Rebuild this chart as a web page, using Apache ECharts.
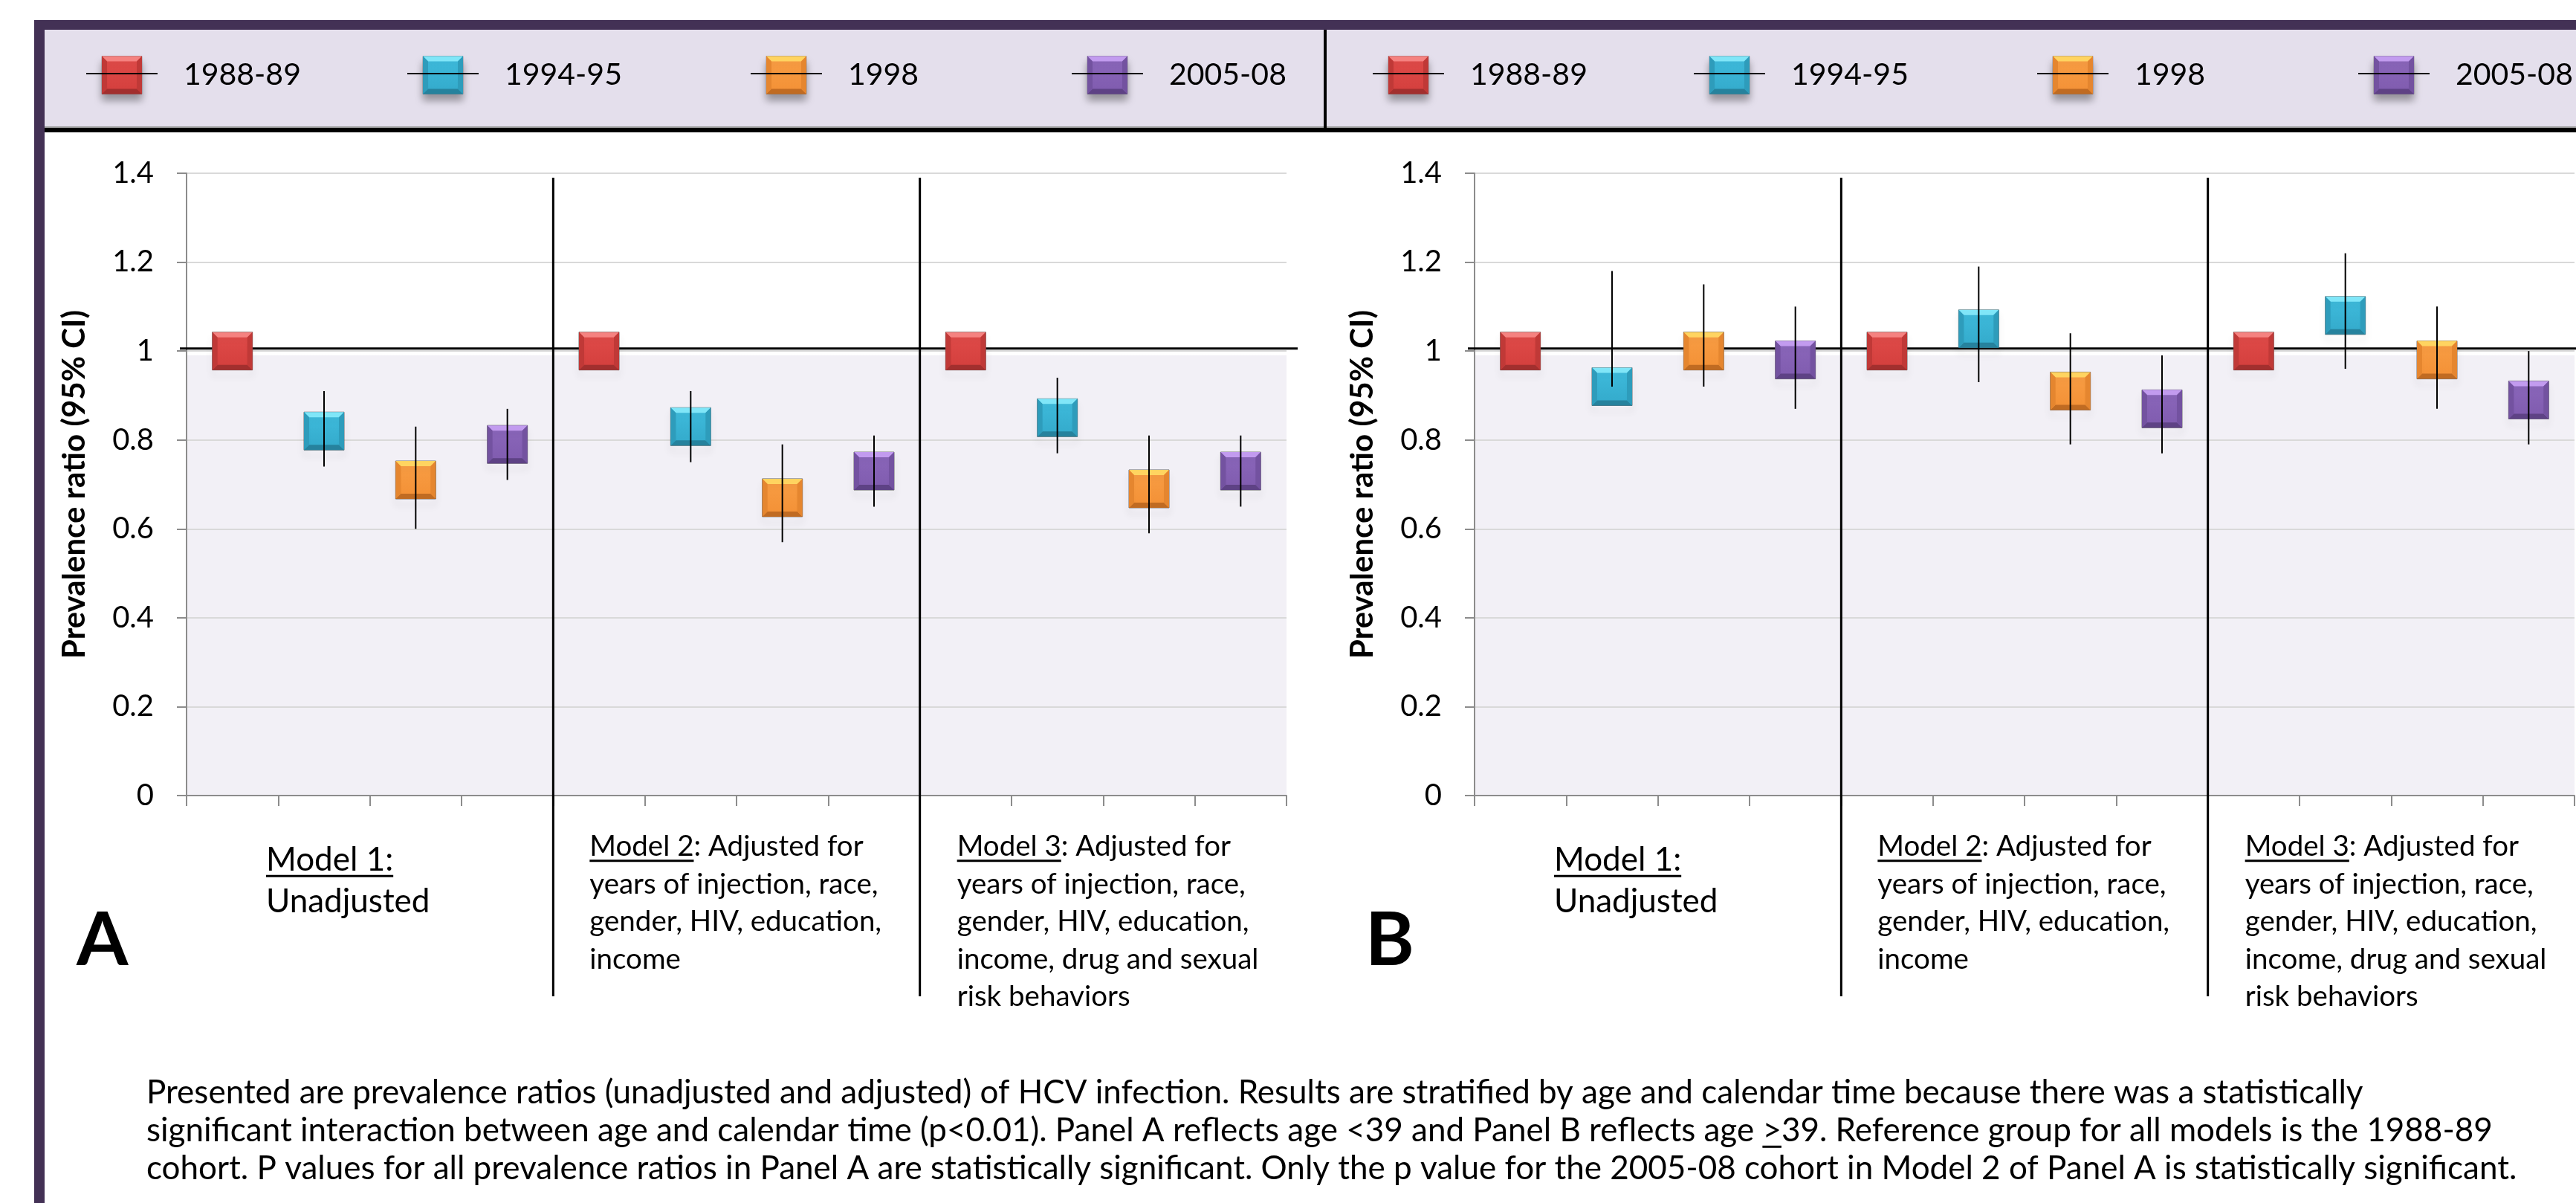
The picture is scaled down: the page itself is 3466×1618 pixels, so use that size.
<!DOCTYPE html>
<html>
<head>
<meta charset="utf-8">
<script src="https://cdn.jsdelivr.net/npm/echarts@6/dist/echarts.min.js"></script>
<style>
html,body{margin:0;padding:0;background:#fff;}
#c{width:3466px;height:1618px;}
</style>
</head>
<body>
<div id="c"></div>
<script>
// ---------------- DATA ----------------
const cohorts = ['1988-89', '1994-95', '1998', '2005-08'];
const models = ['Model 1', 'Model 2', 'Model 3'];
const yTickLabels = ['0', '0.2', '0.4', '0.6', '0.8', '1', '1.2', '1.4'];
const panelNames = ['A', 'B'];

// Panel A (age <39): prevalence ratios per model [Model 1, Model 2, Model 3]
const estA_1988_89 = [1.00, 1.00, 1.00];
const estA_1994_95 = [0.82, 0.83, 0.85];
const lowA_1994_95 = [0.74, 0.75, 0.77];
const highA_1994_95 = [0.91, 0.91, 0.94];
const estA_1998 = [0.71, 0.67, 0.69];
const lowA_1998 = [0.60, 0.57, 0.59];
const highA_1998 = [0.83, 0.79, 0.81];
const estA_2005_08 = [0.79, 0.73, 0.73];
const lowA_2005_08 = [0.71, 0.65, 0.65];
const highA_2005_08 = [0.87, 0.81, 0.81];

// Panel B (age >=39)
const estB_1988_89 = [1.00, 1.00, 1.00];
const estB_1994_95 = [0.92, 1.05, 1.08];
const lowB_1994_95 = [0.92, 0.93, 0.96];
const highB_1994_95 = [1.18, 1.19, 1.22];
const estB_1998 = [1.00, 0.91, 0.98];
const lowB_1998 = [0.92, 0.79, 0.87];
const highB_1998 = [1.15, 1.04, 1.10];
const estB_2005_08 = [0.98, 0.87, 0.89];
const lowB_2005_08 = [0.87, 0.77, 0.79];
const highB_2005_08 = [1.10, 0.99, 1.00];
const noCI = [null, null, null];

const modelText = [
  ['Model 1:', 'Unadjusted'],
  ['Model 2: Adjusted for', 'years of injection, race,', 'gender, HIV, education,', 'income'],
  ['Model 3: Adjusted for', 'years of injection, race,', 'gender, HIV, education,', 'income, drug and sexual', 'risk behaviors']
];
const modelUnderlined = ['Model 1:', 'Model 2', 'Model 3'];
const captionLines = [
  'Presented are prevalence ratios (unadjusted and adjusted) of HCV infection. Results are stratified by age and calendar time because there was a statistically',
  'significant interaction between age and calendar time (p<0.01). Panel A reflects age <39 and Panel B reflects age >39. Reference group for all models is the 1988-89',
  'cohort. P values for all prevalence ratios in Panel A are statistically significant. Only the p value for the 2005-08 cohort in Model 2 of Panel A is statistically significant.'
];
const yAxisTitle = 'Prevalence ratio (95% CI)';

// ---------------- STYLE ----------------
const FONT = 'Lato';
const CAP_SIZE = 44;
const palette = [
  {face: '#D33E3C', face2: '#E04C4A', top: '#F58280', bottom: '#A22F2E', side: '#C03937'},
  {face: '#33A9CA', face2: '#3FBCDD', top: '#80E6F8', bottom: '#26829D', side: '#2E9CBB'},
  {face: '#F39035', face2: '#F89E45', top: '#FFD460', bottom: '#C06B22', side: '#E5862F'},
  {face: '#7F5BAE', face2: '#8B67BB', top: '#C29BEF', bottom: '#5E4285', side: '#7352A0'}
];
const GRID_TOP = 233, GRID_H = 837, GRID_W = 1480;
const GRID_LEFT = [251, 1984];

const panelData = [
  {est: [estA_1988_89, estA_1994_95, estA_1998, estA_2005_08],
   low: [noCI, lowA_1994_95, lowA_1998, lowA_2005_08],
   high: [noCI, highA_1994_95, highA_1998, highA_2005_08]},
  {est: [estB_1988_89, estB_1994_95, estB_1998, estB_2005_08],
   low: [noCI, lowB_1994_95, lowB_1998, lowB_2005_08],
   high: [noCI, highB_1994_95, highB_1998, highB_2005_08]}
];
const categories = [];
models.forEach(m => cohorts.forEach(c => categories.push(m + ' ' + c)));

function markerShapes(cx, cy, pal, z) {
  const w = 54, h = 51, b = 7;
  const x0 = cx - w / 2, y0 = cy - h / 2, x1 = x0 + w, y1 = y0 + h;
  const els = [
    {type: 'rect', shape: {x: x0, y: y0, width: w, height: h},
     style: {fill: new echarts.graphic.LinearGradient(0, 0, 0, 1, [
        {offset: 0, color: pal.face2}, {offset: 1, color: pal.face}]),
       stroke: 'rgba(80,80,80,0.45)', lineWidth: 1,
       shadowBlur: 10, shadowOffsetY: 8, shadowColor: 'rgba(0,0,0,0.35)'}},
    {type: 'polygon', shape: {points: [[x0, y0], [x1, y0], [x1 - b, y0 + b], [x0 + b, y0 + b]]}, style: {fill: pal.top}},
    {type: 'polygon', shape: {points: [[x0, y1], [x1, y1], [x1 - b, y1 - b], [x0 + b, y1 - b]]}, style: {fill: pal.bottom}},
    {type: 'polygon', shape: {points: [[x0, y0], [x0 + b, y0 + b], [x0 + b, y1 - b], [x0, y1]]}, style: {fill: pal.side}},
    {type: 'polygon', shape: {points: [[x1, y0], [x1 - b, y0 + b], [x1 - b, y1 - b], [x1, y1]]}, style: {fill: pal.side}}
  ];
  if (z != null) els.forEach(e => { e.z = z; e.silent = true; });
  return els;
}

function makeRender(k) {
  return function (params, api) {
    const ci = api.value(0), est = api.value(1), lo = api.value(2), hi = api.value(3);
    const p = api.coord([ci, est]);
    const children = markerShapes(p[0], p[1], palette[k]);
    if (lo != null && hi != null && !isNaN(lo) && !isNaN(hi)) {
      const yl = api.coord([ci, lo])[1], yh = api.coord([ci, hi])[1];
      children.push({type: 'line', shape: {x1: p[0], y1: yh, x2: p[0], y2: yl},
        style: {stroke: '#000', lineWidth: 2}});
    }
    return {type: 'group', children};
  };
}

const series = [];
panelData.forEach((pd, p) => {
  cohorts.forEach((c, k) => {
    series.push({
      type: 'custom', name: c, xAxisIndex: p, yAxisIndex: p, clip: false,
      encode: {x: 0, y: [1, 2, 3]},
      renderItem: makeRender(k),
      data: models.map((m, j) => [j * 4 + k, pd.est[k][j], pd.low[k][j], pd.high[k][j]]),
      z: 5
    });
  });
});

const shade = () => new echarts.graphic.LinearGradient(0, 0, 0, 1, [
  {offset: 0, color: '#ffffff'}, {offset: 0.292, color: '#ffffff'},
  {offset: 0.2925, color: '#F2F0F6'}, {offset: 1, color: '#F2F0F6'}]);

const chart = echarts.init(document.getElementById('c'), null, {width: 3466, height: 1618});
chart.setOption({
  animation: false,
  backgroundColor: '#ffffff',
  grid: GRID_LEFT.map(l => ({left: l, top: GRID_TOP, width: GRID_W, height: GRID_H,
    show: true, borderWidth: 0, backgroundColor: shade()})),
  xAxis: GRID_LEFT.map((l, i) => ({
    gridIndex: i, type: 'category', data: categories, boundaryGap: true,
    axisLine: {lineStyle: {color: '#8c8c8c', width: 2}},
    axisTick: {show: true, interval: 0, length: 14, lineStyle: {color: '#8c8c8c', width: 2}},
    axisLabel: {show: false}, splitLine: {show: false}
  })),
  yAxis: GRID_LEFT.map((l, i) => ({
    gridIndex: i, type: 'value', min: 0, max: 1.4, interval: 0.2,
    name: yAxisTitle, nameLocation: 'middle', nameGap: 130,
    nameTextStyle: {fontFamily: FONT, fontSize: 42, fontWeight: 'bold', color: '#000'},
    axisLine: {show: true, lineStyle: {color: '#8c8c8c', width: 2}},
    axisTick: {show: true, length: 13, lineStyle: {color: '#8c8c8c', width: 2}},
    axisLabel: {fontFamily: FONT, fontSize: 40, color: '#000', margin: 44,
      formatter: v => yTickLabels[Math.round(v / 0.2)]},
    splitLine: {lineStyle: {color: '#d9d9d9', width: 2}}
  })),
  series
});

// ---------------- DECORATION (graphic) ----------------
const mctx = document.createElement('canvas').getContext('2d');
function measure(s, size, bold) {
  mctx.font = (bold ? 'bold ' : '') + size + 'px ' + FONT;
  return mctx.measureText(s).width;
}
function txt(x, y, s, size, bold, align) {
  return {type: 'text', x, y, silent: true, z: 20,
    style: {text: s, fontSize: size, fontFamily: FONT, fontWeight: bold ? 'bold' : 'normal',
      fill: '#000', align: align || 'left', verticalAlign: 'middle'}};
}
function bar(x, y, w, h, fill, z) {
  return {type: 'rect', silent: true, z: z || 20, shape: {x, y, width: w, height: h}, style: {fill}};
}

const g = [];
// frame
g.push(bar(46, 27, 3466 - 46, 13, '#433155', 30));
g.push(bar(46, 27, 14, 1618 - 27, '#433155', 30));
g.push(bar(60, 40, 3406, 132, '#E4DFEC', 1));
g.push(bar(60, 170, 3406, 2, '#9a9a9a', 2));
g.push(bar(60, 172, 3406, 6, '#000', 3));
g.push(bar(1781, 40, 4, 138, '#000', 3));

// legends
const legendX = [164, 596, 1058, 1490];
const legendDx = [0, 1731];
legendDx.forEach(dx => {
  cohorts.forEach((c, k) => {
    const cx = legendX[k] + dx, cy = 101;
    markerShapes(cx, cy, palette[k], 10).forEach(e => g.push(e));
    g.push({type: 'line', z: 11, silent: true, shape: {x1: cx - 48, y1: 99, x2: cx + 48, y2: 99},
      style: {stroke: '#000', lineWidth: 2}});
    g.push(txt(cx + 83, 101, c, 41, false));
  });
});

GRID_LEFT.forEach((gl, p) => {
  const yOne = chart.convertToPixel({yAxisIndex: p}, 1);
  const yTop = chart.convertToPixel({yAxisIndex: p}, 1.39);
  const centers = categories.map((c, i) => chart.convertToPixel({xAxisIndex: p}, i));
  const div1 = (centers[3] + centers[4]) / 2;
  const div2 = (centers[7] + centers[8]) / 2;
  // reference line at 1
  g.push({type: 'line', z: 4, silent: true,
    shape: {x1: gl - 9, y1: yOne - 3.5, x2: Math.min(gl + GRID_W + 15, 3466), y2: yOne - 3.5},
    style: {stroke: '#000', lineWidth: 3}});
  // model separators
  [div1, div2].forEach(x => g.push({type: 'line', z: 4, silent: true,
    shape: {x1: x, y1: yTop, x2: x, y2: 1340}, style: {stroke: '#000', lineWidth: 3}}));
  // model descriptions
  const starts = [gl + 107, div1 + 49, div2 + 50];
  modelText.forEach((lines, m) => {
    const size = m === 0 ? 44 : 38.5;
    const y0 = m === 0 ? 1157 : 1139;
    const lh = m === 0 ? 56 : 50.5;
    lines.forEach((ln, i) => g.push(txt(starts[m], y0 + i * lh, ln, size, false)));
    const uw = measure(modelUnderlined[m], size, false);
    g.push(bar(starts[m], y0 + size * 0.45, uw, 3, '#000'));
  });
  // panel letter
  g.push(txt(p === 0 ? 103 : 1837, 1266, panelNames[p], 100, true));
});

// caption
const capY = [1470, 1521, 1572];
captionLines.forEach((ln, i) => g.push(txt(197, capY[i], ln, CAP_SIZE, false)));
// underline the ">" in ">39" (meaning greater than or equal)
{
  const line = captionLines[1];
  const idx = line.indexOf('>39');
  const pre = measure(line.slice(0, idx), CAP_SIZE, false);
  const gw = measure('>', CAP_SIZE, false);
  g.push(bar(197 + pre, capY[1] + CAP_SIZE * 0.45, gw, 3, '#000'));
}

chart.setOption({graphic: {elements: g}});
</script>
</body>
</html>
